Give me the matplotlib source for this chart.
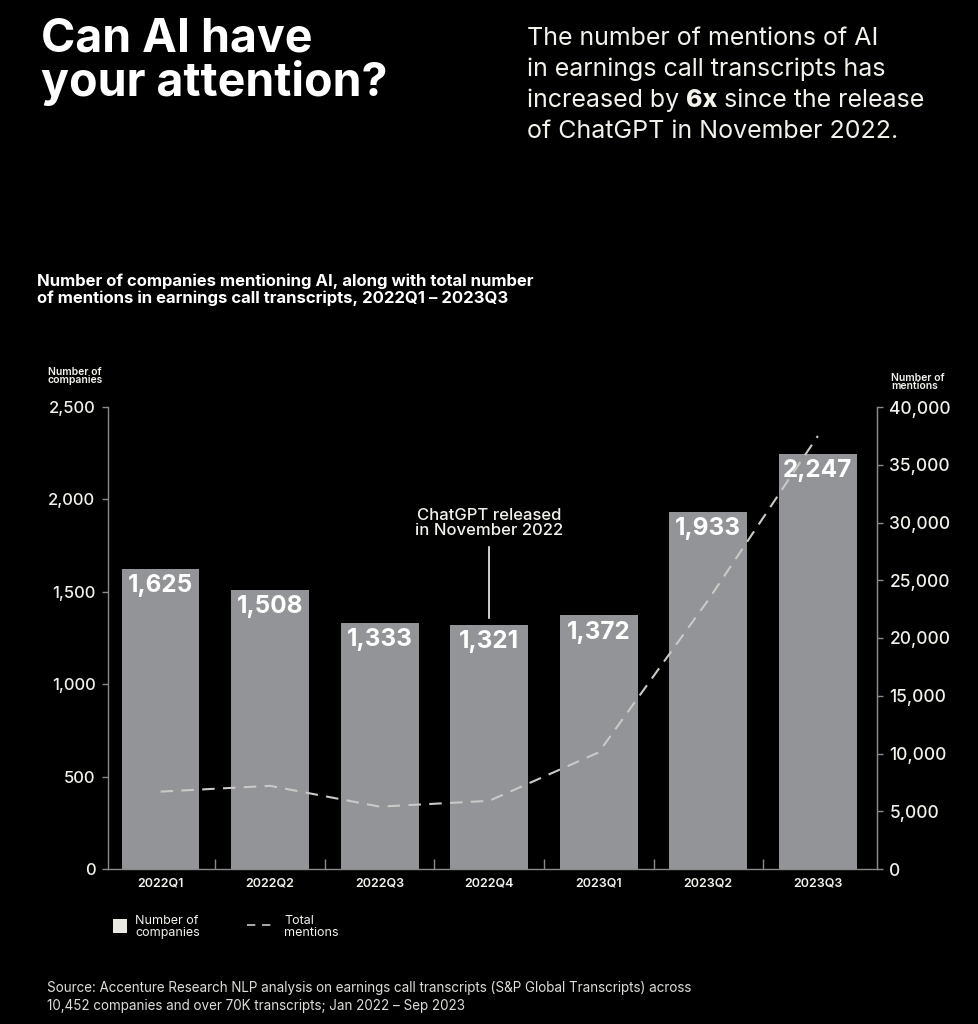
import matplotlib
matplotlib.use("Agg")
import matplotlib.pyplot as plt
from matplotlib.lines import Line2D
from matplotlib.patches import Rectangle
from matplotlib.ticker import FuncFormatter, MultipleLocator
import numpy as np

plt.rcParams['font.family'] = ['Inter', 'DejaVu Sans']

quarters = ["2022Q1", "2022Q2", "2022Q3", "2022Q4", "2023Q1", "2023Q2", "2023Q3"]
companies = [1625, 1508, 1333, 1321, 1372, 1933, 2247]
mentions = [6700, 7200, 5400, 5900, 10100, 23300, 37500]

BG = "black"
BAR = "#939497"
TXT = "#f2f1ec"
AXC = "#8a8a8a"

W, H = 979, 1024
fig = plt.figure(figsize=(W / 100, H / 100), dpi=100, facecolor=BG)

def fx(px):
    return px / W

def fy(py):
    return 1 - py / H

# headline texts
fig.text(fx(41), fy(18), "Can AI have\nyour attention?", color="white",
         fontsize=33.5, fontweight="bold", va="top", ha="left", linespacing=0.95)

sub_lines = ["The number of mentions of AI",
             "in earnings call transcripts has",
             None,
             "of ChatGPT in November 2022."]
base = [45, 76, 107, 138]
for ln, b in zip(sub_lines, base):
    if ln is not None:
        fig.text(fx(527), fy(b), ln, color=TXT, fontsize=18, va="baseline")

renderer = fig.canvas.get_renderer()
t1 = fig.text(fx(527), fy(107), "increased by ", color=TXT, fontsize=18, va="baseline")
x1 = t1.get_window_extent(renderer).x1
t2 = fig.text(x1 / W, fy(107), "6x", color=TXT, fontsize=18, fontweight="heavy", va="baseline")
x2 = t2.get_window_extent(renderer).x1
fig.text(x2 / W, fy(107), " since the release", color=TXT, fontsize=18, va="baseline")

fig.text(fx(37), fy(303),
         "Number of companies mentioning AI, along with total number\n"
         "of mentions in earnings call transcripts, 2022Q1 – 2023Q3",
         color="white", fontsize=12, fontweight="bold", va="baseline", linespacing=1.12)

# axes
ax = fig.add_axes([fx(108), fy(869), fx(877) - fx(108), (869 - 407) / H])
ax.set_facecolor(BG)
x = np.arange(len(quarters))
bars = ax.bar(x, companies, width=0.71, color=BAR, zorder=2)
ax.set_xlim(-0.48, 6.54)
ax.set_ylim(0, 2500)

for xi, v in zip(x, companies):
    ax.annotate(f"{v:,}", (xi, v), xytext=(0, -12), textcoords="offset points",
                ha="center", va="center", color="white", fontsize=17.5,
                fontweight="bold", zorder=5)

ax.yaxis.set_major_locator(MultipleLocator(500))
ax.yaxis.set_major_formatter(FuncFormatter(lambda v, p: f"{int(v):,}"))
ax.tick_params(axis="y", colors=AXC, labelcolor=TXT, labelsize=12, length=4, width=1, pad=5)
for lbl in ax.get_yticklabels():
    lbl.set_fontweight("medium")
ax.set_xticks(x)
ax.set_xticklabels(quarters)
ax.tick_params(axis="x", length=0, labelcolor=TXT, labelsize=9, pad=6)
for lbl in ax.get_xticklabels():
    lbl.set_fontweight("semibold")
ax.set_xticks(x[:-1] + 0.5, minor=True)
ax.tick_params(axis="x", which="minor", direction="in", length=7, color=AXC, width=1)

ax.spines["top"].set_visible(False)
for s in ["left", "bottom", "right"]:
    ax.spines[s].set_color(AXC)
    ax.spines[s].set_linewidth(1)

ax2 = ax.twinx()
ax2.plot(x, mentions, color="#c9c9c7", lw=1.5, linestyle=(0, (6, 4)), zorder=4)
ax2.set_ylim(0, 40000)
ax2.yaxis.set_major_locator(MultipleLocator(5000))
ax2.yaxis.set_major_formatter(FuncFormatter(lambda v, p: f"{int(v):,}"))
ax2.tick_params(axis="y", colors=AXC, labelcolor=TXT, labelsize=12.5, length=4, width=1, pad=5)
for lbl in ax2.get_yticklabels():
    lbl.set_fontweight("medium")
for s in ["top", "left", "bottom"]:
    ax2.spines[s].set_visible(False)
ax2.spines["right"].set_color(AXC)

# ChatGPT annotation
ax.plot([3, 3], [1360, 1740], color=TXT, lw=1.2, zorder=3)
ax.text(3, 1790, "ChatGPT released\nin November 2022", ha="center", va="bottom",
        color=TXT, fontsize=12, fontweight="medium", linespacing=1.0)

# axis titles
fig.text(fx(48), fy(383), "Number of\ncompanies", color=TXT, fontsize=7.5,
         fontweight="semibold", va="baseline", linespacing=0.8)
fig.text(fx(891), fy(389), "Number of\nmentions", color=TXT, fontsize=7.5,
         fontweight="semibold", va="baseline", linespacing=0.8)

# legend
fig.patches.append(Rectangle((fx(113), fy(933)), fx(14), 14 / H, transform=fig.transFigure,
                             facecolor="#e9e9e1", edgecolor="none"))
fig.text(fx(135), fy(927), "Number of\ncompanies", color=TXT, fontsize=9,
         va="center", linespacing=0.95)
fig.lines.append(Line2D([fx(247), fx(273)], [fy(925), fy(925)], transform=fig.transFigure,
                        color="#c9c9c7", lw=1.2, linestyle=(0, (5, 4))))
fig.text(fx(284), fy(927), "Total\nmentions", color=TXT, fontsize=9,
         va="center", linespacing=0.95)

# source
fig.text(fx(47), fy(1010),
         "Source: Accenture Research NLP analysis on earnings call transcripts (S&P Global Transcripts) across\n"
         "10,452 companies and over 70K transcripts; Jan 2022 – Sep 2023",
         color="#dcdcd8", fontsize=9.7, va="baseline", linespacing=1.35)

fig.savefig("out.png", dpi=100, facecolor=BG)
